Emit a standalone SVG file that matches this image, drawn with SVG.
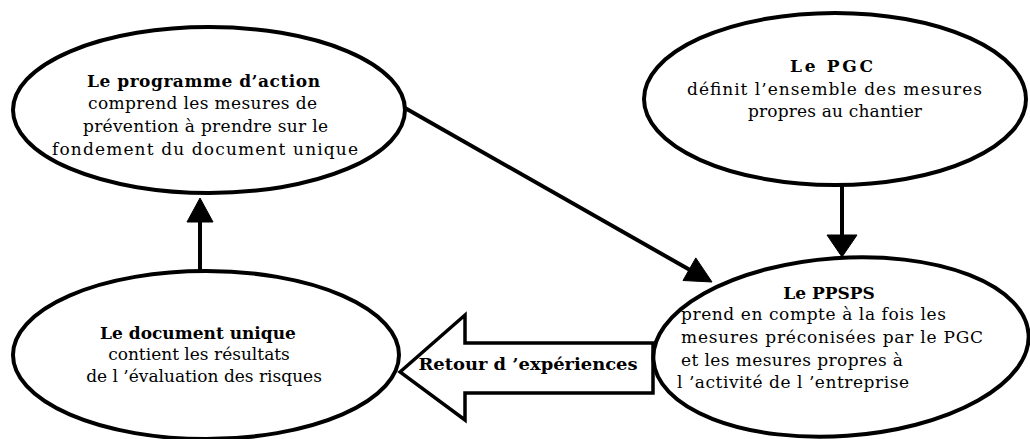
<svg xmlns="http://www.w3.org/2000/svg" width="1030" height="439" viewBox="0 0 1030 439">
<style>
.node{fill:#fff;stroke:#000;stroke-width:4}
.t{font-family:"DejaVu Serif","Liberation Serif",serif;font-size:17px;fill:#000}
.b{font-weight:bold}
.c{text-anchor:middle}
.ln{stroke:#000;stroke-width:4;fill:none}
.hd{fill:#000;stroke:#000;stroke-width:1}
</style>
<rect width="1030" height="439" fill="#fff"/>
<g id="connectors">
<line class="ln" x1="405" y1="108" x2="690" y2="270"/>
<polygon class="hd" points="712,282 683,280.5 695.8,257.9"/>
<line class="ln" x1="842" y1="184" x2="842" y2="236"/>
<polygon class="hd" points="827,235 857,235 842,257"/>
<line class="ln" x1="200" y1="271" x2="200" y2="221"/>
<polygon class="hd" points="187,222 213,222 200,198"/>
<g id="retour">
<polygon points="400,372 465,315 465,343 653,343 653,393 465,393 465,420" fill="#fff" stroke="#000" stroke-width="3.5" stroke-linejoin="miter"/>
<text class="t b c" x="528" y="370" font-size="16" textLength="219" lengthAdjust="spacingAndGlyphs">Retour d ’expériences</text>
</g>
</g>
<g id="programme">
<ellipse class="node" cx="209" cy="110" rx="196" ry="83"/>
<text class="t b c" x="203.5" y="87" textLength="233" lengthAdjust="spacing">Le programme d’action</text>
<text class="t c" x="202.5" y="109" textLength="229" lengthAdjust="spacing">comprend les mesures de</text>
<text class="t c" x="205.5" y="132" textLength="245" lengthAdjust="spacing">prévention à prendre sur le</text>
<text class="t c" x="205" y="155" textLength="306" lengthAdjust="spacing">fondement du document unique</text>
</g>
<g id="pgc">
<ellipse class="node" cx="835" cy="99" rx="191" ry="86"/>
<text class="t b c" x="831.5" y="72" textLength="83" lengthAdjust="spacing">Le PGC</text>
<text class="t c" x="834.5" y="95" textLength="295" lengthAdjust="spacing">définit l’ensemble des mesures</text>
<text class="t c" x="835" y="117" textLength="174" lengthAdjust="spacing">propres au chantier</text>
</g>
<g id="document">
<ellipse class="node" cx="206" cy="355" rx="193" ry="84"/>
<text class="t b c" x="198" y="339">Le document unique</text>
<text class="t c" x="199" y="360">contient les résultats</text>
<text class="t c" x="204" y="382">de l ’évaluation des risques</text>
</g>
<g id="ppsps">
<ellipse class="node" cx="841" cy="347" rx="188" ry="89" transform="rotate(-4 841 347)"/>
<text class="t b c" x="829" y="299">Le PPSPS</text>
<text class="t" x="681" y="320" textLength="265" lengthAdjust="spacing">prend en compte à la fois les</text>
<text class="t" x="681" y="343" textLength="302" lengthAdjust="spacing">mesures préconisées par le PGC</text>
<text class="t" x="681" y="366" textLength="222" lengthAdjust="spacing">et les mesures propres à</text>
<text class="t" x="677" y="388" textLength="232" lengthAdjust="spacing">l ’activité de l ’entreprise</text>
</g>
</svg>
